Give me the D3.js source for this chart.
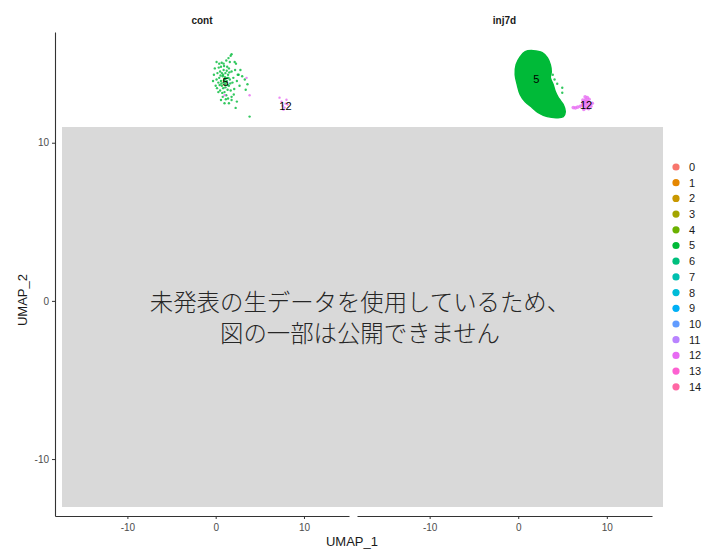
<!DOCTYPE html>
<html>
<head>
<meta charset="utf-8">
<script src="https://cdn.jsdelivr.net/npm/d3@7"></script>
<style>
  body { margin: 0; background: #fff; }
  svg text { font-family: "Liberation Sans", Arial, sans-serif; }
</style>
</head>
<body>
<svg id="chart" width="704" height="549"></svg>
<script>
// panels (facets) and cluster levels
const panels = ['cont', 'inj7d'];
const clusters = ['0','1','2','3','4','5','6','7','8','9','10','11','12','13','14'];
const clusterColors = ['#F8766D','#E58700','#C99800','#A3A500','#6BB100','#00BA38','#00BF7D',
  '#00C0AF','#00BCD8','#00B0F6','#619CFF','#B983FF','#E76BF3','#FD61D1','#FF67A4'];

const xTicks = [-10, 0, 10];
const yTicks = [-10, 0, 10];

// cont, cluster 5 cells (UMAP_1, UMAP_2)
const cont5 = [
  [1.0,14.0],[0.8,14.2],[1.2,13.8],[0.6,13.9],[1.4,14.3],[0.9,14.6],[1.1,13.5],[0.4,14.1],[1.6,14.0],[0.7,13.6],
  [1.3,14.8],[0.2,14.4],[1.8,14.5],[0.5,13.3],[1.0,13.2],[1.5,13.6],[0.3,13.8],[1.7,13.3],[0.9,15.0],[0.1,14.0],
  [1.2,15.2],[0.6,14.8],[2.0,14.1],[1.9,13.8],[0.0,13.6],[0.8,12.9],[1.4,12.8],[2.2,14.6],[0.4,15.0],[1.6,15.1],
  [2.4,13.9],[-0.2,14.3],[1.1,14.4],[0.7,14.4],[1.3,14.1],[0.5,14.5],[1.5,14.7],[0.9,13.8],[1.2,13.0],[0.3,13.2],
  [1.8,12.9],[2.1,13.4],[2.6,14.3],[-0.3,13.9],[0.6,12.7],[1.0,12.5],[2.3,15.0],[0.1,15.1],[1.7,15.5],[1.8,15.6],
  [3.3,14.0],[3.6,13.7],[3.4,13.35],[2.8,14.6],[2.15,15.1],[1.8,12.7],[1.5,12.5],[2.26,12.2],[3.84,11.65],[2.5,14.3],
  [0.68,15.06],[1.05,14.15],[0.85,13.45],[1.35,13.35],[0.45,13.65],[1.55,14.45],[0.15,13.45],[0.95,14.85],[1.25,14.55],[0.55,14.25],
  [1.65,13.75],[2.05,13.05],[0.35,14.75],[1.45,15.35],[2.7,13.6],[3.0,14.2],[-0.1,14.7],[0.75,13.15],[1.15,12.75],[2.4,12.6],
  [1.1,14.05],[0.95,13.95],[1.25,13.9],[0.85,14.3],[1.45,14.1],[0.65,13.75],[1.35,13.65],[1.05,13.7]
];
// cluster 12 cells scattered in cont
const cont12 = [
  [7.57,12.34],[7.91,12.47],[7.80,12.22],[8.14,12.41],[7.46,12.59],[8.02,12.72],[7.68,12.09],[7.23,12.85],
  [3.5,14.1],[3.84,13.0],[1.0,13.0]
];
// inj7d, cluster 5 is a dense blob: outline of the region it fills
const inj5Outline = [
  [0.79,15.76],[1.69,15.82],[2.71,15.70],[3.28,15.38],[3.62,14.94],[3.73,14.49],[3.62,14.11],[3.95,13.67],
  [4.18,13.23],[4.52,12.85],[5.08,12.41],[5.31,11.96],[5.08,11.65],[4.41,11.58],[3.28,11.65],[2.26,11.90],
  [1.58,12.22],[0.79,12.59],[0.23,13.04],[-0.11,13.67],[-0.34,14.30],[-0.23,14.94],[0.23,15.44]
];
const inj5 = [
  [4.4,13.73],[4.97,13.48],[4.97,13.16],[4.63,12.72],[3.9,14.3],[4.1,14.0]
];
const inj12 = [
  [7.57,12.47],[7.35,12.55],[7.8,12.4],[7.6,12.72],[7.45,12.3],[7.9,12.6],[8.1,12.45],[7.7,12.2],
  [8.2,12.3],[7.25,12.4],[7.55,12.9],[7.8,12.85],[7.0,12.3],[6.7,12.25],[6.45,12.2],[6.21,12.22],
  [8.36,12.5],[7.4,12.1],[7.95,12.15],[7.65,12.6],[7.3,12.7],[8.0,12.75]
];
const labels = [
  { panel: 'cont', text: '5', x: 1.13, y: 13.86 },
  { panel: 'cont', text: '12', x: 7.9, y: 12.3 },
  { panel: 'inj7d', text: '5', x: 2.03, y: 13.99 },
  { panel: 'inj7d', text: '12', x: 7.65, y: 12.4 }
];
const xTitle = 'UMAP_1';
const yTitle = 'UMAP_2';
const noteLines = ['未発表の生データを使用しているため、', '図の一部は公開できません'];

const svg = d3.select('#chart');
const colorOf = d3.scaleOrdinal().domain(clusters).range(clusterColors);

const plotTop = 32, plotBottom = 516;
const panelX = { cont: [55, 349], inj7d: [357, 652] };
const y = d3.scaleLinear().domain([-13.6, 17.0]).range([plotBottom, plotTop]);

panels.forEach(p => {
  const x = d3.scaleLinear().domain([-18.2, 15.1]).range(panelX[p]);
  const g = svg.append('g');

  const xAxis = g.append('g')
    .attr('transform', `translate(0,${plotBottom})`)
    .call(d3.axisBottom(x).tickValues(xTicks).tickFormat(d => String(d)).tickSize(3).tickSizeOuter(0));
  xAxis.select('.domain').attr('stroke', '#333').attr('stroke-width', 1.1);
  xAxis.selectAll('.tick line').attr('stroke', '#333');
  xAxis.selectAll('.tick text').attr('fill', '#4d4d4d').attr('font-size', 10).attr('dy', '0.9em');

  if (p === 'cont') {
    const yAxis = g.append('g')
      .attr('transform', `translate(${panelX[p][0]},0)`)
      .call(d3.axisLeft(y).tickValues(yTicks).tickFormat(d => String(d)).tickSize(3).tickSizeOuter(0));
    yAxis.select('.domain').attr('stroke', '#333').attr('stroke-width', 1.1);
    yAxis.selectAll('.tick line').attr('stroke', '#333');
    yAxis.selectAll('.tick text').attr('fill', '#4d4d4d').attr('font-size', 10);
  }

  g.append('text')
    .attr('x', (panelX[p][0] + panelX[p][1]) / 2)
    .attr('y', 24)
    .attr('text-anchor', 'middle')
    .attr('font-size', 10)
    .attr('font-weight', 'bold')
    .attr('fill', '#1a1a1a')
    .text(p);

  const pts = p === 'cont'
    ? [...cont5.map(d => ({ d, c: '5' })), ...cont12.map(d => ({ d, c: '12' }))]
    : [...inj5.map(d => ({ d, c: '5' })), ...inj12.map(d => ({ d, c: '12' }))];

  if (p === 'inj7d') {
    g.append('path')
      .datum(inj5Outline)
      .attr('d', d3.line().x(d => x(d[0])).y(d => y(d[1])).curve(d3.curveCatmullRomClosed))
      .attr('fill', colorOf('5'))
      .attr('stroke', colorOf('5'))
      .attr('stroke-width', 1.5);
  }

  g.selectAll('.pt')
    .data(pts)
    .enter().append('circle')
    .attr('cx', o => x(o.d[0]))
    .attr('cy', o => y(o.d[1]))
    .attr('r', o => p === 'inj7d' && o.c === '12' ? 1.8 : 1.2)
    .attr('fill', o => colorOf(o.c))
    .attr('opacity', 0.8);

  g.selectAll('.lab')
    .data(labels.filter(l => l.panel === p))
    .enter().append('text')
    .attr('x', l => x(l.x))
    .attr('y', l => y(l.y))
    .attr('dy', '0.35em')
    .attr('text-anchor', 'middle')
    .attr('font-size', 11)
    .attr('fill', '#000')
    .text(l => l.text);
});

// grey cover box with note
svg.append('rect')
  .attr('x', 62).attr('y', 127)
  .attr('width', 601).attr('height', 380)
  .attr('fill', '#d9d9d9');

svg.append('g').selectAll('text')
  .data(noteLines)
  .enter().append('text')
  .attr('x', 360)
  .attr('y', (d, i) => 311 + i * 31)
  .attr('text-anchor', 'middle')
  .attr('font-size', 23.4)
  .attr('font-weight', 300)
  .attr('fill', '#262626')
  .style('font-family', '"Noto Sans CJK JP", sans-serif')
  .text(d => d);

// axis titles
svg.append('text')
  .attr('x', 352).attr('y', 546)
  .attr('text-anchor', 'middle')
  .attr('font-size', 13)
  .attr('fill', '#1a1a1a')
  .text(xTitle);

svg.append('text')
  .attr('transform', 'translate(27,300) rotate(-90)')
  .attr('text-anchor', 'middle')
  .attr('font-size', 13)
  .attr('fill', '#1a1a1a')
  .text(yTitle);

// legend
const legend = svg.append('g').attr('transform', 'translate(676,167)');
const item = legend.selectAll('g')
  .data(clusters)
  .enter().append('g')
  .attr('transform', (d, i) => `translate(0,${i * 15.7})`);
item.append('circle').attr('r', 3.6).attr('fill', d => colorOf(d));
item.append('text')
  .attr('x', 13)
  .attr('dy', '0.36em')
  .attr('font-size', 11)
  .attr('fill', '#1a1a1a')
  .text(d => d);
</script>
</body>
</html>
